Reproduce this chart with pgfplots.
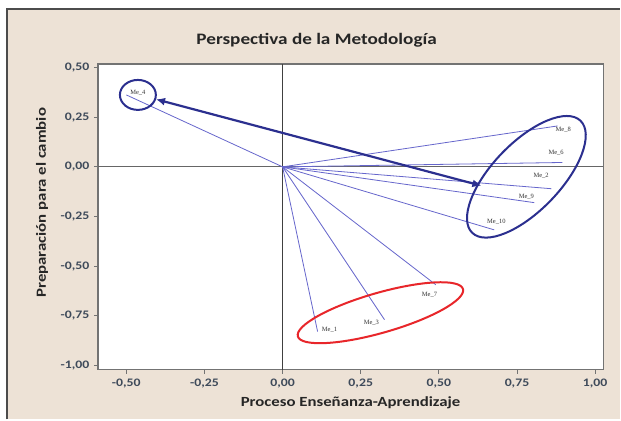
\documentclass[border=0pt]{standalone}
\usepackage{pgfplots}
\pgfplotsset{compat=1.18}
\usetikzlibrary{arrows.meta}
\usepackage{fontspec}
\setmainfont{Carlito}[FakeStretch=1.2]
\newfontfamily\tinyserif{Liberation Serif}
\definecolor{bg}{HTML}{EDE2D6}
\definecolor{vec}{HTML}{6666CC}
\definecolor{dblue}{HTML}{2B2F8F}
\definecolor{rred}{HTML}{E8262A}
\definecolor{ticklab}{HTML}{3E4A5A}
\begin{document}
\begin{tikzpicture}
\fill[white] (0pt,0pt) rectangle (621pt,420pt);
\fill[bg] (7pt,0pt) rectangle (621pt,411pt);
\draw[line width=1.5pt, black!70] (7pt,0pt) -- (7pt,411pt) -- (621pt,411pt);
\begin{axis}[at={(98pt,50pt)}, anchor=south west, scale only axis,
  width=506pt, height=306pt,
  xmin=-0.591, xmax=1.026, ymin=-1.02, ymax=0.518,
  axis background/.style={fill=white},
  axis line style={draw=black!55, line width=1.3pt},
  xtick={-0.5,-0.25,0,0.25,0.5,0.75,1},
  ytick={-1,-0.75,-0.5,-0.25,0,0.25,0.5},
  xtick pos=bottom, ytick pos=left,
  tick align=outside, major tick length=4pt,
  tick style={black!55, line width=1pt},
  /pgf/number format/.cd, fixed, fixed zerofill, precision=2, use comma, assume math mode=true,
  /pgfplots/.cd,
  ticklabel style={font=\fontsize{11.5}{12}\selectfont\bfseries, text=ticklab},
  xticklabel style={yshift=-2pt},
  yticklabel style={xshift=-1pt},
  clip=false,
]
% reference lines
\addplot[black!75, line width=1pt] coordinates {(0,-1.02) (0,0.518)};
\addplot[black!60, line width=1pt] coordinates {(-0.591,0) (1.026,0)};
% vectors from origin
\addplot[vec, line width=0.8pt, quiver={u=\thisrow{u}, v=\thisrow{v}}] table {
x y u v
0 0 -0.50 0.362
0 0 0.880 0.206
0 0 0.895 0.022
0 0 0.860 -0.110
0 0 0.805 -0.180
0 0 0.677 -0.317
0 0 0.490 -0.593
0 0 0.326 -0.769
0 0 0.112 -0.829
};
% labels
\addplot[draw=none, mark=none, nodes near coords, point meta=explicit symbolic,
  nodes near coords style={font=\tinyserif\fontsize{6.5}{6.5}\selectfont, anchor=center, inner sep=0pt, text=black!80}]
  table[meta=lab] {
x y lab
-0.463 0.372 Me\_4
0.898 0.186 Me\_8
0.875 0.070 Me\_6
0.827 -0.045 Me\_2
0.780 -0.150 Me\_9
0.684 -0.276 Me\_10
0.470 -0.643 Me\_7
0.284 -0.784 Me\_3
0.150 -0.820 Me\_1
};
% double arrow
\addplot[dblue, line width=2.2pt, {Latex[length=9pt,width=8pt]}-{Latex[length=9pt,width=8pt]}] coordinates {(-0.405,0.340) (0.636,-0.095)};
% ellipses
\draw[dblue, line width=2pt] (axis cs:-0.463,0.362) ellipse [x radius=18pt, y radius=15pt];
\draw[dblue, line width=2pt, rotate around={46:(axis cs:0.78,-0.05)}] (axis cs:0.78,-0.05) ellipse [x radius=78pt, y radius=34pt];
\draw[rred, line width=2pt, rotate around={16:(axis cs:0.313,-0.734)}] (axis cs:0.313,-0.734) ellipse [x radius=86pt, y radius=20pt];
\end{axis}
\node[font=\fontsize{16}{17}\selectfont\bfseries, text=black!85] at (317pt,380pt) {Perspectiva de la Metodología};
\node[font=\fontsize{14}{15}\selectfont\bfseries, text=black!85] at (351pt,17pt) {Proceso Enseñanza-Aprendizaje};
\node[font=\fontsize{14}{15}\selectfont\bfseries, text=black!85, rotate=90] at (42pt,217pt) {Preparación para el cambio};
\end{tikzpicture}
\end{document}
